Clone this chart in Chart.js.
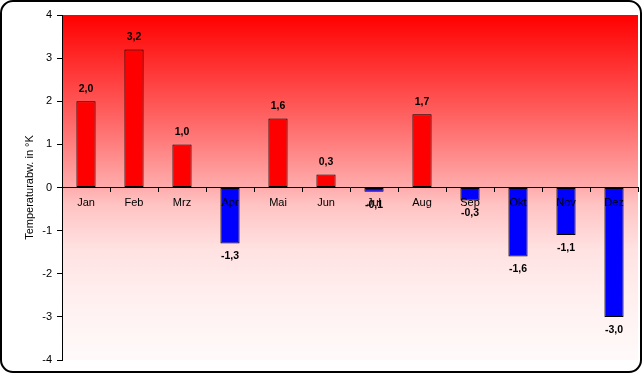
<!DOCTYPE html>
<html>
<head>
<meta charset="utf-8">
<script src="https://cdn.jsdelivr.net/npm/chart.js@4/dist/chart.umd.min.js"></script>
<style>
html,body{margin:0;padding:0;background:#fff;}
canvas{display:block;}
</style>
</head>
<body>
<canvas id="c" width="643" height="375"></canvas>
<script>
const months = ["Jan","Feb","Mrz","Apr","Mai","Jun","Jul","Aug","Sep","Okt","Nov","Dez"];
const deviations = [2.0, 3.2, 1.0, -1.3, 1.6, 0.3, -0.1, 1.7, -0.3, -1.6, -1.1, -3.0];
const yTicks = [-4,-3,-2,-1,0,1,2,3,4];
const axisTitle = "Temperaturabw. in °K";

const barColors = deviations.map(v => v >= 0 ? "#ff0000" : "#0000ff");

const bgPlugin = {
  id: "bg",
  beforeDraw(chart) {
    const {ctx, chartArea: a} = chart;
    ctx.save();
    ctx.fillStyle = "#ffffff";
    ctx.fillRect(0, 0, chart.width, chart.height);
    const g = ctx.createLinearGradient(0, a.top, 0, a.bottom);
    g.addColorStop(0, "rgb(255,0,0)");
    g.addColorStop(0.30, "rgb(255,100,100)");
    g.addColorStop(0.50, "rgb(255,172,172)");
    g.addColorStop(0.55, "rgb(255,195,195)");
    g.addColorStop(0.68, "rgb(255,226,226)");
    g.addColorStop(0.83, "rgb(255,240,240)");
    g.addColorStop(1, "rgb(255,250,250)");
    ctx.fillStyle = g;
    ctx.fillRect(a.left, a.top, a.right - a.left, a.bottom - a.top);
    ctx.restore();
  },
  afterDraw(chart) {
    const {ctx} = chart;
    ctx.save();
    const meta = chart.getDatasetMeta(0);
    ctx.font = "bold 10.5px 'Liberation Sans', Arial, sans-serif";
    ctx.fillStyle = "#000";
    ctx.textAlign = "center";
    ctx.textBaseline = "middle";
    meta.data.forEach((el, i) => {
      const v = deviations[i];
      const txt = v.toFixed(1).replace(".", ",");
      const y = v >= 0 ? el.y - 12 : el.y + 13;
      ctx.fillText(txt, el.x, y);
    });
    ctx.strokeStyle = "#000";
    ctx.lineWidth = 2;
    ctx.beginPath();
    ctx.roundRect(1, 1, 640, 371, 12);
    ctx.stroke();
    ctx.restore();
  }
};

new Chart(document.getElementById("c"), {
  type: "bar",
  data: {
    labels: months,
    datasets: [{
      data: deviations,
      backgroundColor: barColors,
      borderColor: "#000",
      borderWidth: 1,
      borderSkipped: false,
      barPercentage: 0.4,
      categoryPercentage: 1
    }]
  },
  options: {
    responsive: false,
    animation: false,
    layout: { padding: { top: 15, bottom: 15, left: 0, right: 5 } },
    plugins: { legend: { display: false }, tooltip: { enabled: false } },
    scales: {
      x: {
        position: { y: 0 },
        offset: true,
        grid: { offset: true, drawOnChartArea: false, tickLength: 4, color: "#000", lineWidth: 1, z: 1 },
        border: { color: "#000", width: 1, z: 1 },
        ticks: { z: 1, color: "#000", padding: 5, maxRotation: 0, autoSkip: false,
                 font: { family: "'Liberation Sans', Arial, sans-serif", size: 11 } }
      },
      y: {
        min: -4, max: 4,
        afterFit(scale) { scale.width = 62; },
        afterBuildTicks(scale) { scale.ticks = yTicks.map(v => ({ value: v })); },
        grid: { drawOnChartArea: false, tickLength: 5, color: "#000", lineWidth: 1 },
        border: { color: "#000", width: 1 },
        ticks: { color: "#000", padding: 5,
                 font: { family: "'Liberation Sans', Arial, sans-serif", size: 11 },
                 callback: v => String(v) },
        title: { display: true, text: axisTitle, color: "#000",
                 padding: { top: 23, bottom: 0 },
                 font: { family: "'Liberation Sans', Arial, sans-serif", size: 11 } }
      }
    }
  },
  plugins: [bgPlugin]
});
</script>
</body>
</html>
